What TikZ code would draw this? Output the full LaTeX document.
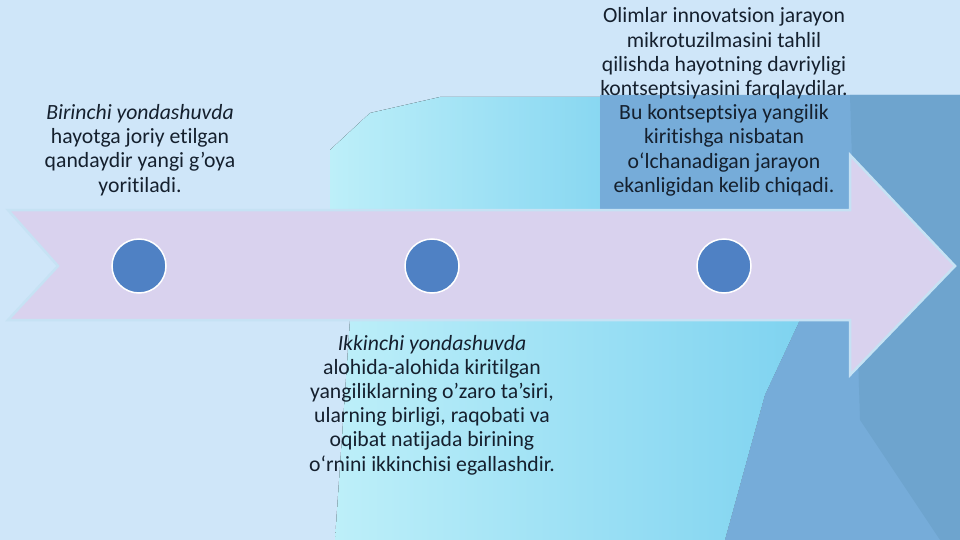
\documentclass[tikz,border=0pt]{standalone}
\usepackage{fontspec}
\setmainfont{Carlito}[Ligatures={NoCommon}]
\usepackage{xcolor}
\definecolor{bgbase}{HTML}{CFE6F9}
\definecolor{bgdark}{HTML}{76ACD9}
\definecolor{bgdeep}{HTML}{6EA4CE}
\definecolor{cyanlight}{HTML}{BDEFF9}
\definecolor{cyandeep}{HTML}{7FD3F0}
\definecolor{arrowfill}{HTML}{D9D2EE}
\definecolor{arrowedge}{HTML}{C6E2F4}
\definecolor{dotblue}{HTML}{4F81C4}
\definecolor{txt}{HTML}{15202E}

\begin{document}
\begin{tikzpicture}[x=1pt,y=-1pt,
    dot/.style={circle,fill=dotblue,draw=white,line width=1.5pt,minimum size=54pt,inner sep=0pt},
    note/.style={align=center,text=txt,font=\fontsize{21.7}{24.2}\selectfont,inner sep=0pt}]
        \useasboundingbox (0,0) rectangle (960,540);
        \fill[bgbase] (0,0) rectangle (960,540);

        \fill[left color=cyanlight,right color=cyandeep] (330,150) -- (370,113) -- (440,97) -- (650,97) -- (650,210) -- (330,210) -- cycle;
        \fill[left color=cyanlight,right color=cyandeep] (350,320) -- (800,320) -- (765,395) -- (725,540) -- (335,540) -- cycle;
        \fill[bgdark] (600,95) -- (960,95) -- (960,540) -- (725,540) -- (765,395) -- (800,320) -- (600,210) -- cycle;
        \fill[bgdeep] (850,95) -- (960,95) -- (960,540) -- (940,540) -- (860,420) -- cycle;

        \draw[fill=arrowfill,draw=arrowedge,line width=2.5pt,line join=miter]
            (8,210) -- (850,210) -- (850,155) -- (955,266) -- (850,375) -- (850,320) -- (8,320) -- (58,266) -- cycle;

        \node[dot] (c1) at (139,266) {};
        \node[dot] (c2) at (432,266) {};
        \node[dot] (c3) at (724,266) {};

        \node[note] (t1) at (140,150) {\textit{Birinchi yondashuvda}\\hayotga joriy etilgan\\qandaydir yangi g’oya\\yoritiladi.};
        \node[note] (t2) at (432,405) {\textit{Ikkinchi yondashuvda}\\alohida-alohida kiritilgan\\yangiliklarning o’zaro ta’siri,\\ularning birligi, raqobati va\\oqibat natijada birining\\o‘rnini ikkinchisi egallashdir.};
        \node[note] (t3) at (724,102) {Olimlar innovatsion jarayon\\mikrotuzilmasini tahlil\\qilishda hayotning davriyligi\\kontseptsiyasini farqlaydilar.\\Bu kontseptsiya yangilik\\kiritishga nisbatan\\o‘lchanadigan jarayon\\ekanligidan kelib chiqadi.};
    \end{tikzpicture}
\end{document}
